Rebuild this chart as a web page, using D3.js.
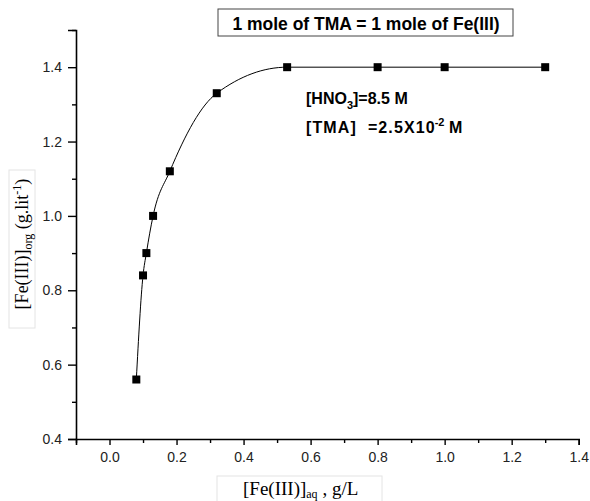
<!DOCTYPE html>
<html>
<head>
<meta charset="utf-8">
<script src="https://cdn.jsdelivr.net/npm/d3@7"></script>
<style>
  html, body { margin: 0; padding: 0; background: #fff; }
  svg { display: block; }
  text { white-space: pre; }
</style>
</head>
<body>
<svg id="chart" width="590" height="501"></svg>
<script>
// ---- data ----
const xValues = [0.08, 0.10, 0.11, 0.13, 0.18, 0.32, 0.53, 0.80, 1.00, 1.30];
const yValues = [0.56, 0.84, 0.90, 1.00, 1.12, 1.33, 1.40, 1.40, 1.40, 1.40];
const xMajorTicks = [0.0, 0.2, 0.4, 0.6, 0.8, 1.0, 1.2, 1.4];
const xMinorTicks = [-0.1, 0.1, 0.3, 0.5, 0.7, 0.9, 1.1, 1.3];
const yMajorTicks = [0.4, 0.6, 0.8, 1.0, 1.2, 1.4];
const yMinorTicks = [0.5, 0.7, 0.9, 1.1, 1.3, 1.5];
const titleText = "1 mole of TMA = 1 mole of Fe(III)";

const svg = d3.select("#chart");
const sans = "'Liberation Sans', Arial, sans-serif";
const serif = "'Liberation Serif', 'Times New Roman', serif";

const x = d3.scaleLinear().domain([-0.1, 1.4]).range([76, 578.7]);
const y = d3.scaleLinear().domain([0.4, 1.5]).range([439, 30]);

// ---- axes ----
const xAxisG = svg.append("g").attr("transform", `translate(0,${y(0.4)})`);
xAxisG.call(d3.axisBottom(x).tickValues(xMajorTicks).tickSize(6).tickPadding(7)
  .tickFormat(d3.format(".1f")));
xAxisG.append("g").call(d3.axisBottom(x).tickValues(xMinorTicks).tickSize(4).tickFormat(""))
  .select(".domain").remove();

const yAxisG = svg.append("g").attr("transform", `translate(${x(-0.1)},0)`);
yAxisG.call(d3.axisLeft(y).tickValues(yMajorTicks).tickSize(8).tickPadding(6)
  .tickFormat(d3.format(".1f")));
yAxisG.append("g").call(d3.axisLeft(y).tickValues(yMinorTicks).tickSize(4).tickFormat(""))
  .select(".domain").remove();

svg.selectAll(".domain").attr("stroke", "#000").attr("stroke-width", 1.6);
svg.selectAll(".tick line").attr("stroke", "#000").attr("stroke-width", 1.4);
svg.selectAll(".tick text").attr("font-family", sans).attr("font-size", 14).attr("fill", "#222");

// ---- line + markers ----
const pts = xValues.map((v, i) => [v, yValues[i]]);
const line = d3.line().x(d => x(d[0])).y(d => y(d[1])).curve(d3.curveMonotoneX);
svg.append("path").datum(pts).attr("d", line)
  .attr("fill", "none").attr("stroke", "#000").attr("stroke-width", 1);

const ms = 8;
svg.selectAll("rect.pt").data(pts).enter().append("rect")
  .attr("class", "pt")
  .attr("x", d => x(d[0]) - ms / 2).attr("y", d => y(d[1]) - ms / 2)
  .attr("width", ms).attr("height", ms).attr("fill", "#000");

// ---- title box ----
svg.append("rect").attr("x", 218).attr("y", 9).attr("width", 295).attr("height", 27)
  .attr("fill", "#fff").attr("stroke", "#444").attr("stroke-width", 1);
svg.append("text").attr("x", 366).attr("y", 29.5).attr("text-anchor", "middle")
  .attr("font-family", sans).attr("font-weight", "bold").attr("font-size", 17.5)
  .attr("fill", "#000").text(titleText);

// ---- annotation ----
const a1 = svg.append("text").attr("x", 306).attr("y", 104)
  .attr("font-family", sans).attr("font-weight", "bold").attr("font-size", 16).attr("fill", "#000");
a1.append("tspan").text("[HNO");
a1.append("tspan").attr("font-size", 11).attr("dy", 5).text("3");
a1.append("tspan").attr("dy", -5).text("]=8.5 M");

const a2 = svg.append("text").attr("x", 306).attr("y", 133)
  .attr("font-family", sans).attr("font-weight", "bold").attr("font-size", 16).attr("fill", "#000");
a2.append("tspan").attr("letter-spacing", 1.1).text("[TMA]  =2.5X10");
a2.append("tspan").attr("font-size", 11).attr("dx", -1).attr("dy", -7).text("-2");
a2.append("tspan").attr("dy", 7).text(" M");

// ---- y label ----
svg.append("rect").attr("x", 9).attr("y", 170).attr("width", 26).attr("height", 158)
  .attr("fill", "#fff").attr("stroke", "#e4e4e4").attr("stroke-width", 1);
const yl = svg.append("text").attr("transform", "translate(28,244) rotate(-90)")
  .attr("text-anchor", "middle").attr("font-family", serif).attr("font-size", 18).attr("fill", "#000");
yl.append("tspan").text("[Fe(III)]");
yl.append("tspan").attr("font-size", 12).attr("dy", 4).text("org");
yl.append("tspan").attr("dy", -4).text(" (g.lit");
yl.append("tspan").attr("font-size", 12).attr("dy", -7).text("-1");
yl.append("tspan").attr("dy", 7).text(")");

// ---- x label ----
svg.append("rect").attr("x", 217).attr("y", 476).attr("width", 165).attr("height", 30)
  .attr("fill", "#fff").attr("stroke", "#e4e4e4").attr("stroke-width", 1);
const xl = svg.append("text").attr("x", 243).attr("y", 495)
  .attr("font-family", serif).attr("font-size", 19).attr("fill", "#000");
xl.append("tspan").text("[Fe(III)]");
xl.append("tspan").attr("font-size", 12).attr("dy", 3).text("aq");
xl.append("tspan").attr("dy", -3).text(" , g/L");
</script>
</body>
</html>
